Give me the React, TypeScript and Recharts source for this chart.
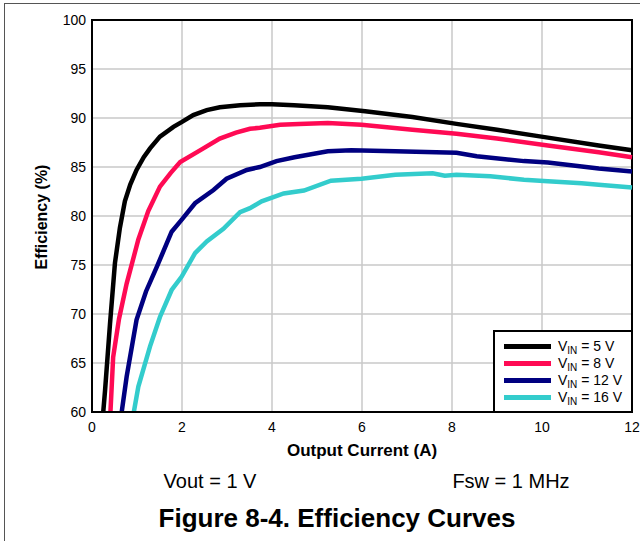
import React from 'react'
import { LineChart, Line, XAxis, YAxis, CartesianGrid, Legend, ReferenceArea } from 'recharts'

// Output current (A) and efficiency (%) for each input voltage
const vin5Current = [0.25, 0.29, 0.4, 0.51, 0.62, 0.73, 0.85, 0.99, 1.15, 1.29, 1.51, 1.81, 2.0, 2.25, 2.55, 2.84, 3.29, 3.73, 4.0, 4.49, 5.24, 6.07, 7.12, 8.1, 9.0, 10.13, 11.26, 12]
const vin5Eff = [60, 62.2, 69, 75.2, 78.8, 81.5, 83.2, 84.7, 86.0, 86.9, 88.1, 89.1, 89.6, 90.3, 90.8, 91.1, 91.3, 91.4, 91.4, 91.3, 91.1, 90.7, 90.1, 89.4, 88.8, 88.0, 87.2, 86.7]

const vin8Current = [0.41, 0.47, 0.6, 0.77, 1.03, 1.25, 1.51, 1.75, 1.96, 2.4, 2.84, 3.2, 3.51, 3.73, 4.18, 4.6, 5.24, 5.99, 7.12, 8.1, 9.0, 10.13, 11.26, 12]
const vin8Eff = [60, 65.6, 69.5, 73.1, 77.6, 80.5, 83.0, 84.4, 85.5, 86.7, 87.9, 88.5, 88.9, 89.0, 89.3, 89.4, 89.5, 89.3, 88.8, 88.4, 87.9, 87.2, 86.5, 86.0]

const vin12Current = [0.66, 0.77, 0.99, 1.2, 1.44, 1.77, 1.99, 2.29, 2.7, 2.99, 3.44, 3.73, 4.1, 4.5, 5.24, 5.76, 6.74, 8.1, 8.55, 9.6, 10.13, 11.26, 12]
const vin12Eff = [60, 63.6, 69.4, 72.3, 74.8, 78.4, 79.6, 81.3, 82.65, 83.8, 84.7, 85.0, 85.6, 86.0, 86.6, 86.7, 86.6, 86.45, 86.1, 85.6, 85.45, 84.85, 84.55]

const vin16Current = [0.93, 1.03, 1.29, 1.51, 1.77, 1.99, 2.29, 2.55, 2.92, 3.29, 3.51, 3.77, 4.26, 4.71, 5.31, 5.99, 6.74, 7.57, 7.84, 8.1, 8.85, 9.6, 10.13, 10.88, 11.26, 12]
const vin16Eff = [60, 62.6, 66.7, 69.7, 72.45, 73.8, 76.2, 77.4, 78.7, 80.4, 80.8, 81.5, 82.3, 82.6, 83.6, 83.8, 84.2, 84.35, 84.1, 84.2, 84.05, 83.7, 83.55, 83.35, 83.2, 82.9]

const xTicks = [0, 2, 4, 6, 8, 10, 12]
const yTicks = [60, 65, 70, 75, 80, 85, 90, 95, 100]

const toPoints = (current: number[], eff: number[]) =>
  current.map((c, i) => ({ current: c, eff: eff[i] }))

const series = [
  { vin: '5', color: '#000000', data: toPoints(vin5Current, vin5Eff) },
  { vin: '8', color: '#ff0a54', data: toPoints(vin8Current, vin8Eff) },
  { vin: '12', color: '#000080', data: toPoints(vin12Current, vin12Eff) },
  { vin: '16', color: '#33cccc', data: toPoints(vin16Current, vin16Eff) }
]

const font = '"Liberation Sans", Arial, sans-serif'

function LegendBox() {
  return (
    <div
      style={{
        width: 140,
        height: 83,
        boxSizing: 'border-box',
        border: '2px solid #000',
        background: '#fff',
        paddingTop: 6,
        fontFamily: font,
        fontSize: 14,
        color: '#000'
      }}
    >
      {series.map((s) => (
        <div key={s.vin} style={{ display: 'flex', alignItems: 'center', height: 17 }}>
          <svg width={56} height={17} style={{ marginLeft: 7 }}>
            <line x1={2} y1={8.5} x2={49} y2={8.5} stroke={s.color} strokeWidth={5} />
          </svg>
          <span style={{ whiteSpace: 'nowrap' }}>
            V<sub style={{ fontSize: 10, verticalAlign: -3 }}>IN</sub> = {s.vin} V
          </span>
        </div>
      ))}
    </div>
  )
}

export default function App() {
  return (
    <div style={{ position: 'absolute', left: 0, top: 0, width: 640, height: 541, background: '#fff', fontFamily: font }}>
      <div
        style={{
          position: 'absolute',
          left: 4,
          top: 3,
          width: 640,
          height: 541,
          borderTop: '1px solid #555',
          borderLeft: '1px solid #555'
        }}
      />
      <LineChart width={640} height={541} margin={{ top: 20, right: 8, bottom: 99, left: 42 }}>
        <CartesianGrid stroke="#c8c8c8" strokeWidth={1.5} />
        <XAxis
          dataKey="current"
          type="number"
          domain={[0, 12]}
          ticks={xTicks}
          allowDuplicatedCategory={false}
          height={30}
          tickLine={false}
          tickSize={6}
          tickMargin={4}
          axisLine={{ stroke: '#000', strokeWidth: 2 }}
          tick={{ fill: '#000', fontSize: 14, fontFamily: font }}
        />
        <YAxis
          type="number"
          domain={[60, 100]}
          ticks={yTicks}
          allowDataOverflow
          width={50}
          tickLine={false}
          tickSize={4}
          tickMargin={2}
          axisLine={{ stroke: '#000', strokeWidth: 2 }}
          tick={{ fill: '#000', fontSize: 14, fontFamily: font }}
        />
        {series.map((s) => (
          <Line
            key={s.vin}
            data={s.data}
            dataKey="eff"
            type="linear"
            stroke={s.color}
            strokeWidth={4.5}
            dot={false}
            isAnimationActive={false}
          />
        ))}
        <ReferenceArea x1={0} x2={12} y1={60} y2={100} fill="none" stroke="#000" strokeWidth={2} />
        <Legend
          layout="vertical"
          align="center"
          verticalAlign="middle"
          content={() => <LegendBox />}
          wrapperStyle={{ left: 493, top: 330, width: 140, height: 83, bottom: 'auto' }}
        />
      </LineChart>
      <div
        style={{
          position: 'absolute',
          left: 42,
          top: 217,
          transform: 'translate(-50%, -50%) rotate(-90deg)',
          whiteSpace: 'nowrap',
          fontWeight: 'bold',
          fontSize: 16
        }}
      >
        Efficiency (%)
      </div>
      <div style={{ position: 'absolute', left: 362, top: 441, transform: 'translateX(-50%)', whiteSpace: 'nowrap', fontWeight: 'bold', fontSize: 17 }}>
        Output Current (A)
      </div>
      <div style={{ position: 'absolute', left: 210, top: 470, transform: 'translateX(-50%)', whiteSpace: 'nowrap', fontSize: 20 }}>
        Vout = 1 V
      </div>
      <div style={{ position: 'absolute', left: 511, top: 470, transform: 'translateX(-50%)', whiteSpace: 'nowrap', fontSize: 20 }}>
        Fsw = 1 MHz
      </div>
      <div style={{ position: 'absolute', left: 337, top: 503, transform: 'translateX(-50%)', whiteSpace: 'nowrap', fontWeight: 'bold', fontSize: 26 }}>
        Figure 8-4. Efficiency Curves
      </div>
    </div>
  )
}
